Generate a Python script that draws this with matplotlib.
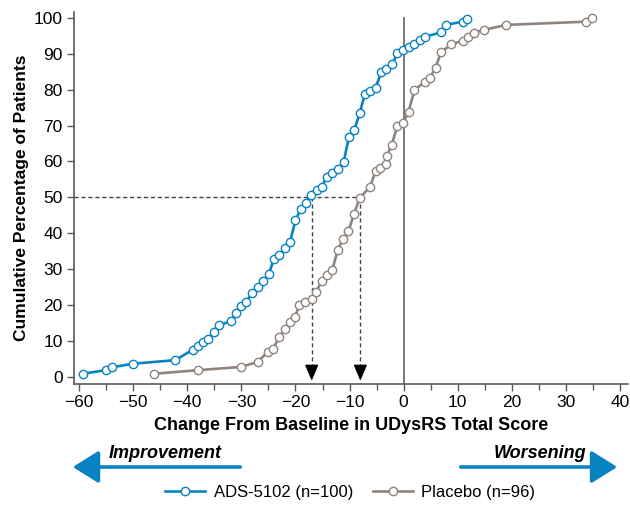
import matplotlib
matplotlib.use("Agg")
import matplotlib.pyplot as plt
from matplotlib.patches import FancyArrowPatch

plt.rcParams['font.family'] = ['Liberation Sans', 'DejaVu Sans']

# cambio desde basal (x) y porcentaje acumulado (y)
ads_x = [-59.3, -55.1, -54.0, -50.0, -42.2, -39.0, -38.1, -37.1, -36.1, -35.1,
         -34.1, -32.0, -31.0, -30.1, -29.1, -28.0, -27.0, -26.0, -24.9, -24.0,
         -23.0, -22.0, -21.0, -20.0, -19.0, -18.1, -17.2, -16.1, -15.1, -14.2,
         -13.2, -12.2, -11.1, -10.1, -9.1, -8.1, -7.2, -6.2, -5.2, -4.1,
         -3.2, -2.1, -1.2, -0.1, 0.9, 1.9, 3.0, 4.0, 6.9, 7.8,
         10.9, 11.7]
ads_y = [0.8, 1.8, 2.6, 3.6, 4.6, 7.5, 8.5, 9.6, 10.5, 12.5,
         14.4, 15.4, 17.7, 19.8, 20.8, 23.4, 24.9, 26.8, 28.7, 32.8,
         33.8, 35.8, 37.6, 43.6, 46.8, 48.5, 50.7, 52.0, 53.0, 55.8,
         56.7, 57.9, 59.9, 66.8, 68.9, 73.6, 78.7, 79.7, 80.6, 85.0,
         85.8, 87.1, 90.2, 91.1, 92.0, 92.9, 93.9, 94.8, 96.0, 98.1,
         99.0, 99.8]

plac_x = [-46.1, -38.1, -30.1, -27.0, -25.1, -24.1, -23.0, -21.9, -21.0, -20.1,
          -19.3, -18.2, -17.0, -16.2, -15.1, -14.1, -13.2, -12.2, -11.2, -10.2,
          -9.2, -8.1, -6.2, -5.2, -4.3, -3.3, -3.1, -2.2, -1.2, -0.1,
          0.9, 2.0, 3.9, 4.8, 5.9, 6.9, 8.8, 10.9, 11.9, 13.0,
          14.8, 19.0, 33.8, 34.9]
plac_y = [0.8, 1.8, 2.7, 4.1, 6.9, 7.8, 11.1, 13.4, 15.1, 16.6,
          19.9, 20.8, 21.7, 23.6, 26.8, 28.4, 29.8, 35.2, 38.4, 40.5,
          45.4, 49.9, 52.9, 57.3, 58.1, 59.3, 61.5, 64.7, 69.8, 70.6,
          73.9, 79.9, 82.3, 83.2, 86.2, 90.4, 92.7, 93.6, 94.8, 95.9,
          96.7, 98.1, 99.0, 99.9]

medianas = [-17, -8]

azul = '#0883c2'
gris = '#8f847d'

fig = plt.figure(figsize=(6.3, 5.05), dpi=100)
ax = fig.add_axes([0.117, 0.24, 0.880, 0.737])

ax.plot(ads_x, ads_y, color=azul, lw=1.9, marker='o', ms=6, mfc='white',
        mec=azul, mew=1.0, label='ADS-5102 (n=100)', zorder=4)
ax.plot(plac_x, plac_y, color=gris, lw=1.9, marker='o', ms=6, mfc='white',
        mec=gris, mew=1.0, label='Placebo (n=96)', zorder=3)

# linea vertical en cero
ax.plot([0, 0], [-2, 100], color='#6e6e6e', lw=1.3, zorder=2)

# lineas de mediana
ax.plot([-61, medianas[1]], [50, 50], color='#444444', lw=1, ls=(0, (3, 2)), zorder=1)
for m in medianas:
    ax.plot([m, m], [50, 3], color='#444444', lw=1, ls=(0, (3, 2)), zorder=1)
    ax.annotate('', xy=(m, -1.9), xytext=(m, 3.2),
                arrowprops=dict(arrowstyle='-|>,head_length=0.75,head_width=0.32',
                                color='black', lw=1, mutation_scale=13))

ax.set_xlim(-61, 41.5)
ax.set_ylim(-2, 101.8)
ax.set_xticks(range(-60, 41, 10))
ax.set_xticks(range(-55, 40, 10), minor=True)
ax.set_xticklabels([str(v).replace('-', '\u2212') for v in range(-60, 41, 10)])
ax.set_yticks(range(0, 101, 10))

for s in ['top', 'right']:
    ax.spines[s].set_visible(False)
for s in ['left', 'bottom']:
    ax.spines[s].set_color('#5a5a5a')
    ax.spines[s].set_linewidth(1.2)
ax.tick_params(which='major', direction='out', length=5, width=1, color='#5a5a5a',
               labelsize=12.5, pad=3)
ax.tick_params(which='minor', direction='out', length=4, width=1, color='#5a5a5a')

ax.set_xlabel('Change From Baseline in UDysRS Total Score', fontsize=13,
              fontweight='bold', labelpad=5)
ax.set_ylabel('Cumulative Percentage of Patients', fontsize=12.5,
              fontweight='bold', labelpad=3)

# flechas de mejora / empeoramiento
y_fl = 1 - 467 / 505
fig.add_artist(FancyArrowPatch((243 / 630, y_fl), (70 / 630, y_fl),
                               transform=fig.transFigure, color=azul, lw=2.6,
                               arrowstyle='-|>,head_length=0.8,head_width=0.5',
                               mutation_scale=20))
fig.add_artist(FancyArrowPatch((458 / 630, y_fl), (620 / 630, y_fl),
                               transform=fig.transFigure, color=azul, lw=2.6,
                               arrowstyle='-|>,head_length=0.8,head_width=0.5',
                               mutation_scale=20))
fig.text(165 / 630, 1 - 454 / 505, 'Improvement', ha='center', va='center',
         fontsize=13, fontweight='bold', fontstyle='italic')
fig.text(540 / 630, 1 - 454 / 505, 'Worsening', ha='center', va='center',
         fontsize=13, fontweight='bold', fontstyle='italic')

fig.legend(loc='center', bbox_to_anchor=(0.556, 1 - 492 / 505), ncol=2,
           frameon=False, fontsize=12, handlelength=2.4, columnspacing=1.2,
           handletextpad=0.5)

fig.savefig('out.png', dpi=100)
